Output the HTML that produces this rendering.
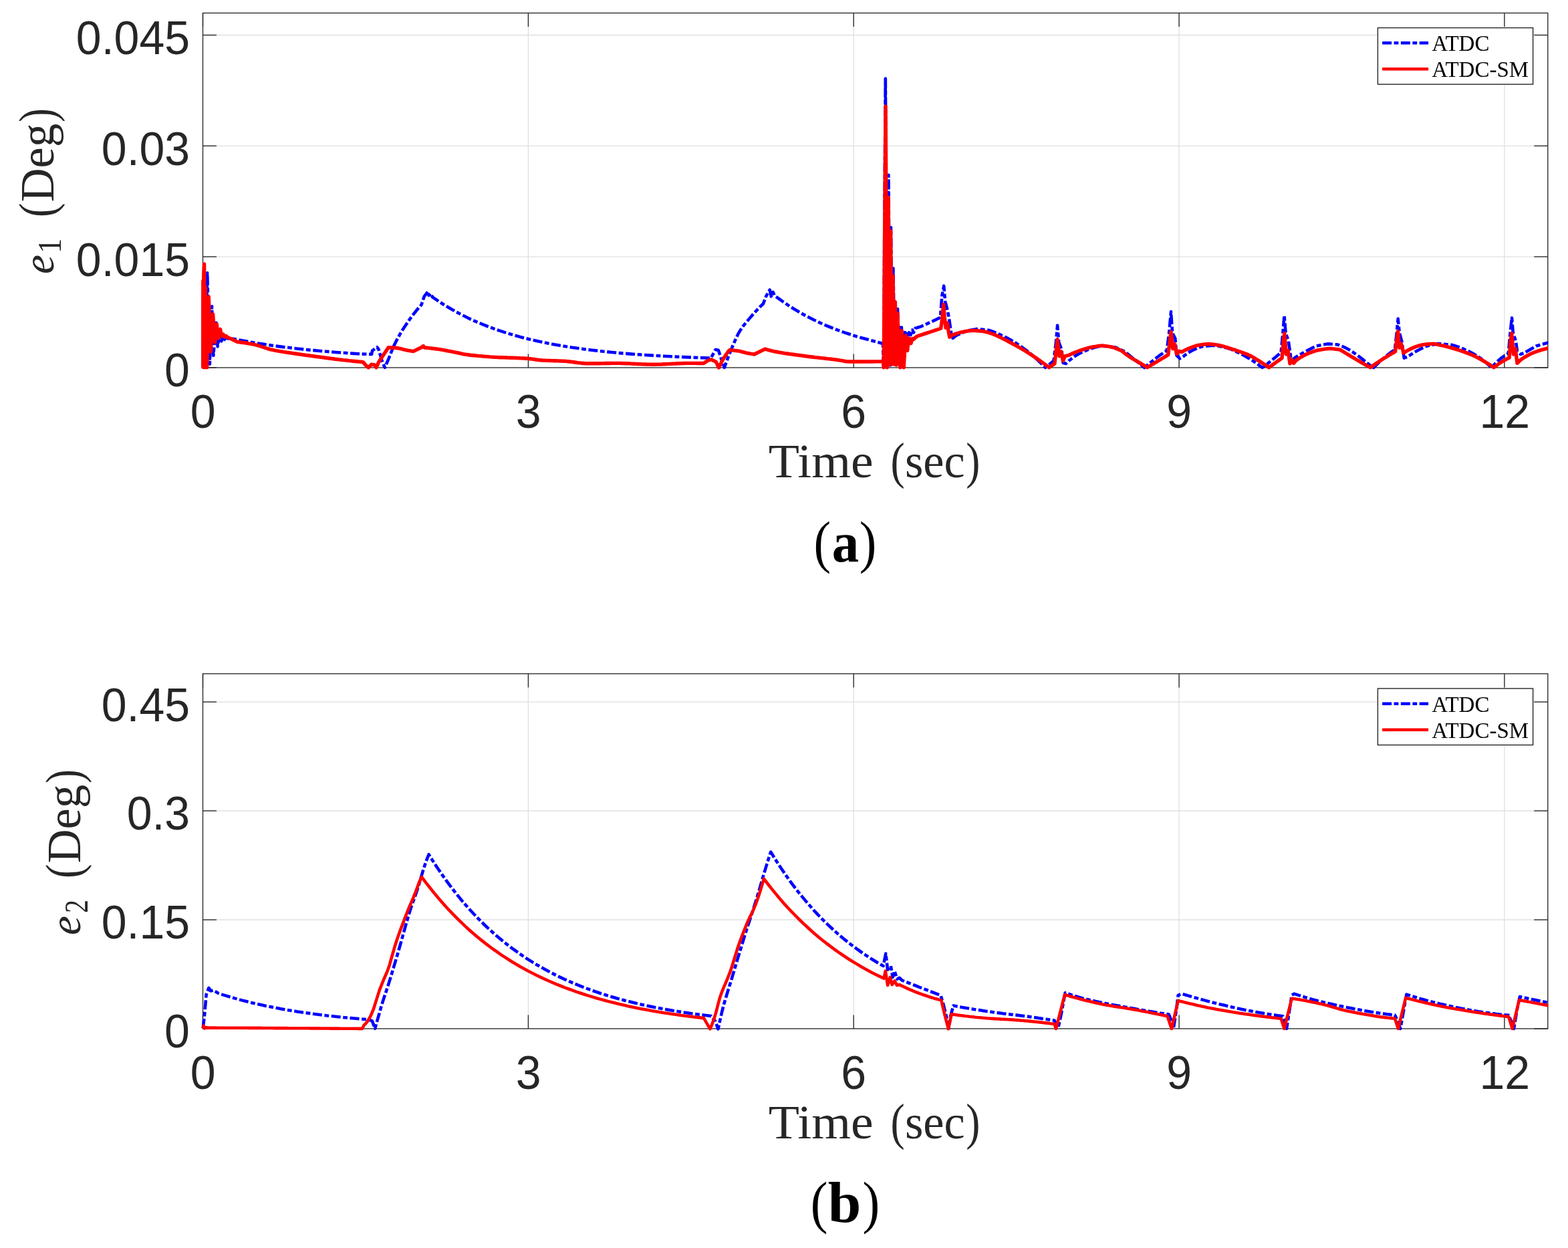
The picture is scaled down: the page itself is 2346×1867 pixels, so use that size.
<!DOCTYPE html>
<html lang="en"><head><meta charset="utf-8"><title>Tracking errors</title>
<style>
html,body{margin:0;padding:0;background:#fff;}
body{width:2346px;height:1867px;overflow:hidden;}
svg{display:block;}
text{white-space:pre;}
.tick{font-family:"Liberation Sans",Arial,Helvetica,sans-serif;fill:#262626;}
.ser{font-family:"Liberation Serif","DejaVu Serif",serif;fill:#262626;}
.it{font-style:italic;}
.bd{font-weight:bold;}
.ax{stroke:#262626;stroke-width:1.33;fill:none;}
.grid{stroke:#e0e0e0;stroke-width:1.33;fill:none;}
.red{stroke:#ff0000;stroke-width:4.6;fill:none;stroke-linejoin:round;stroke-linecap:butt;}
.blue{stroke:#0000ff;stroke-width:4.6;fill:none;stroke-linejoin:round;stroke-linecap:butt;stroke-dasharray:14 3.6 6.8 3.6;}
</style></head><body>
<svg width="2346" height="1867" viewBox="0 0 2346 1867">
<rect x="0" y="0" width="2346" height="1867" fill="#fff"/>

<g id="plot1">
<clipPath id="clip0"><rect x="300.5" y="19.5" width="2015.8" height="534.0"/></clipPath>
<line class="grid" x1="790.4" y1="19.5" x2="790.4" y2="550.0"/>
<line class="grid" x1="1277.2" y1="19.5" x2="1277.2" y2="550.0"/>
<line class="grid" x1="1764.1" y1="19.5" x2="1764.1" y2="550.0"/>
<line class="grid" x1="2250.9" y1="19.5" x2="2250.9" y2="550.0"/>
<line class="grid" x1="303.5" y1="384.1" x2="2315.8" y2="384.1"/>
<line class="grid" x1="303.5" y1="218.3" x2="2315.8" y2="218.3"/>
<line class="grid" x1="303.5" y1="52.5" x2="2315.8" y2="52.5"/>
<rect class="ax" x="303.5" y="19.5" width="2012.3" height="530.5"/>
<line class="ax" x1="303.5" y1="550.0" x2="303.5" y2="529.5"/>
<line class="ax" x1="303.5" y1="19.5" x2="303.5" y2="40.0"/>
<line class="ax" x1="790.4" y1="550.0" x2="790.4" y2="529.5"/>
<line class="ax" x1="790.4" y1="19.5" x2="790.4" y2="40.0"/>
<line class="ax" x1="1277.2" y1="550.0" x2="1277.2" y2="529.5"/>
<line class="ax" x1="1277.2" y1="19.5" x2="1277.2" y2="40.0"/>
<line class="ax" x1="1764.1" y1="550.0" x2="1764.1" y2="529.5"/>
<line class="ax" x1="1764.1" y1="19.5" x2="1764.1" y2="40.0"/>
<line class="ax" x1="2250.9" y1="550.0" x2="2250.9" y2="529.5"/>
<line class="ax" x1="2250.9" y1="19.5" x2="2250.9" y2="40.0"/>
<line class="ax" x1="303.5" y1="550.0" x2="324.0" y2="550.0"/>
<line class="ax" x1="2315.8" y1="550.0" x2="2295.3" y2="550.0"/>
<line class="ax" x1="303.5" y1="384.1" x2="324.0" y2="384.1"/>
<line class="ax" x1="2315.8" y1="384.1" x2="2295.3" y2="384.1"/>
<line class="ax" x1="303.5" y1="218.3" x2="324.0" y2="218.3"/>
<line class="ax" x1="2315.8" y1="218.3" x2="2295.3" y2="218.3"/>
<line class="ax" x1="303.5" y1="52.5" x2="324.0" y2="52.5"/>
<line class="ax" x1="2315.8" y1="52.5" x2="2295.3" y2="52.5"/>
<g clip-path="url(#clip0)">
<polyline class="blue" points="303.6,549.8 304.3,480.0 305.2,440.0 306.2,500.0 307.2,549.0 308.7,470.0 310.2,408.4 312.0,480.0 313.8,544.6 315.4,500.0 317.0,458.2 318.0,495.0 319.3,532.0 321.5,505.0 323.5,482.9 324.5,500.0 325.6,518.4 327.8,504.0 329.6,498.0 331.2,510.5 333.5,503.0 335.9,508.0 338.0,504.5 341.0,506.5 345.0,506.0 350.9,507.2 356.9,508.4 362.8,509.6 368.7,510.6 374.7,511.7 380.6,512.7 386.5,513.7 392.5,514.6 398.4,515.5 404.3,516.4 410.3,517.3 416.2,518.1 422.1,518.9 428.1,519.6 434.0,520.3 439.9,521.0 445.9,521.7 451.8,522.3 457.7,523.0 463.7,523.6 469.6,524.1 475.5,524.7 481.5,525.2 487.4,525.7 493.3,526.2 499.3,526.7 505.2,527.2 511.1,527.6 517.1,528.0 523.0,528.5 528.9,528.9 534.9,529.2 540.8,529.6 556.0,530.0 557.0,524.7 564.1,519.5 566.4,522.4 572.3,542.2 575.8,549.8 581.6,536.4 584.5,528.9 587.4,521.9 590.2,515.5 593.1,509.7 596.0,504.3 598.9,499.2 601.7,494.5 604.6,490.0 607.5,485.7 610.4,481.5 613.2,477.4 616.1,473.4 619.0,469.6 621.9,466.0 624.7,462.5 627.6,459.2 630.5,456.0 634.6,443.7 640.4,436.0 641.6,442.0 644.5,439.0 646.9,444.3 652.9,448.4 658.8,452.4 664.8,456.2 670.7,459.8 676.7,463.3 682.6,466.6 688.6,469.8 694.5,472.8 700.5,475.8 706.4,478.5 712.4,481.2 718.3,483.7 724.3,486.2 730.2,488.5 736.2,490.7 742.1,492.9 748.1,494.9 754.1,496.9 760.0,498.7 766.0,500.5 771.9,502.2 777.9,503.9 783.8,505.4 789.8,506.9 795.7,508.4 801.7,509.7 807.6,511.1 813.6,512.3 819.5,513.5 825.5,514.7 831.4,515.8 837.4,516.8 843.3,517.8 849.3,518.8 855.2,519.7 861.2,520.6 867.2,521.4 873.1,522.2 879.1,523.0 885.0,523.7 891.0,524.4 896.9,525.1 902.9,525.8 908.8,526.4 914.8,527.0 920.7,527.5 926.7,528.1 932.6,528.6 938.6,529.1 944.5,529.6 950.5,530.0 956.4,530.4 962.4,530.9 968.4,531.3 974.3,531.6 980.3,532.0 986.2,532.3 992.2,532.7 998.1,533.0 1004.1,533.3 1010.0,533.6 1016.0,533.9 1021.9,534.1 1027.9,534.4 1033.8,534.6 1039.8,534.9 1045.7,535.1 1051.7,535.3 1057.6,535.5 1063.6,535.7 1070.6,523.1 1074.8,523.8 1079.7,538.5 1083.8,550.0 1086.7,541.8 1089.6,534.0 1092.5,526.6 1095.4,519.6 1098.3,512.8 1101.2,506.2 1104.1,500.2 1107.0,495.1 1109.9,490.7 1112.8,486.7 1115.8,483.1 1118.7,479.6 1121.6,476.1 1124.5,472.7 1127.4,469.4 1130.3,466.2 1133.2,463.1 1136.1,460.1 1139.0,457.2 1141.9,454.5 1146.1,443.4 1151.7,433.6 1153.8,443.4 1156.6,437.0 1158.7,442.0 1164.6,446.4 1170.5,450.7 1176.4,454.7 1182.2,458.6 1188.1,462.3 1194.0,465.8 1199.9,469.2 1205.8,472.5 1211.7,475.5 1217.6,478.5 1223.5,481.3 1229.3,484.0 1235.2,486.6 1241.1,489.0 1247.0,491.4 1252.9,493.6 1258.8,495.8 1264.7,497.9 1270.6,499.8 1276.5,501.7 1282.3,503.5 1288.2,505.2 1294.1,506.8 1300.0,508.4 1321.0,514.0 1322.0,549.8 1323.4,330.0 1324.8,117.5 1326.1,330.0 1327.4,549.8 1328.4,400.0 1329.4,261.8 1330.4,400.0 1331.4,549.0 1332.2,440.0 1333.0,340.2 1333.9,440.0 1334.8,542.0 1335.6,470.0 1336.4,401.2 1337.6,480.0 1340.2,546.0 1341.7,500.0 1343.1,462.2 1344.5,510.0 1346.0,540.0 1347.3,510.0 1348.5,486.4 1350.0,505.0 1351.5,518.0 1353.0,505.0 1354.3,494.5 1356.0,500.0 1357.5,505.0 1359.0,500.0 1360.2,497.5 1362.5,501.0 1365.0,493.5 1367.0,497.5 1369.4,491.0 1372.3,490.2 1375.2,489.3 1378.1,488.3 1380.9,487.2 1383.8,485.9 1386.7,484.5 1389.6,483.1 1392.5,481.8 1395.4,480.5 1398.2,479.1 1401.1,477.8 1404.0,476.4 1406.9,475.0 1409.3,443.2 1412.2,427.7 1414.2,451.3 1417.5,463.6 1419.9,475.8 1423.2,498.6 1425.6,506.0 1430.5,502.0 1446.8,494.6 1463.2,492.1 1479.5,494.0 1482.4,495.0 1485.3,496.0 1488.2,497.1 1491.2,498.3 1494.1,499.6 1497.0,500.9 1499.9,502.3 1502.8,503.7 1505.7,505.1 1508.6,506.6 1511.6,508.2 1514.5,509.9 1517.4,511.6 1520.3,513.5 1523.2,515.4 1526.1,517.3 1529.0,519.4 1531.9,521.5 1534.9,523.6 1537.8,525.9 1540.7,528.2 1543.6,530.6 1546.5,533.1 1549.4,535.7 1552.3,538.4 1555.3,541.2 1558.2,544.1 1561.1,547.0 1564.0,550.0 1576.5,539.9 1580.0,511.9 1582.1,486.7 1584.2,511.9 1588.4,523.1 1590.5,542.7 1594.7,544.0 1598.9,540.0 1601.8,537.7 1604.7,535.4 1607.5,533.3 1610.4,531.5 1613.3,529.8 1616.2,528.3 1619.0,526.9 1621.9,525.5 1624.8,524.3 1627.7,523.1 1630.5,522.1 1633.4,521.1 1636.3,520.2 1639.2,519.4 1642.0,518.7 1644.9,518.1 1647.8,517.5 1668.8,519.6 1682.8,525.9 1712.2,550.0 1715.0,547.6 1717.8,545.3 1720.6,543.0 1723.4,540.7 1726.2,538.5 1729.0,536.4 1731.7,534.3 1734.5,532.2 1737.3,530.2 1740.1,528.3 1742.9,526.4 1745.7,524.5 1749.2,497.9 1752.0,466.4 1754.1,497.9 1758.3,506.3 1760.4,531.5 1765.3,536.4 1770.9,532.9 1773.7,530.7 1776.6,528.7 1779.4,526.8 1782.2,525.2 1785.1,523.8 1787.9,522.4 1790.7,521.1 1793.5,520.0 1796.4,519.0 1799.2,518.2 1816.0,516.8 1818.9,517.1 1821.8,517.5 1824.7,518.1 1827.6,518.7 1830.5,519.3 1833.4,520.1 1836.4,520.9 1839.3,521.7 1842.2,522.7 1845.1,523.9 1848.0,525.2 1850.9,526.6 1853.8,528.0 1856.7,529.5 1859.6,531.0 1862.5,532.5 1865.4,534.2 1868.3,535.9 1871.3,537.7 1874.2,539.6 1877.1,541.5 1880.0,543.5 1882.9,545.6 1885.8,547.8 1888.7,550.0 1891.5,547.9 1894.3,545.7 1897.1,543.6 1899.9,541.3 1902.7,539.1 1905.4,536.8 1908.2,534.5 1911.0,532.1 1913.8,529.7 1916.6,527.3 1919.4,497.9 1921.5,472.0 1923.6,497.9 1927.8,510.5 1930.0,525.9 1932.0,539.9 1937.6,535.0 1940.5,533.2 1943.5,531.5 1946.4,529.7 1949.3,528.1 1952.2,526.4 1955.2,524.8 1958.1,523.3 1961.0,521.8 1963.9,520.3 1966.9,518.9 1969.8,517.5 1986.6,514.4 2000.6,515.4 2003.5,516.3 2006.3,517.4 2009.2,518.5 2012.1,519.8 2014.9,521.2 2017.8,522.7 2020.7,524.4 2023.5,526.3 2026.4,528.3 2029.3,530.4 2032.2,532.5 2035.0,534.6 2037.9,536.9 2040.8,539.3 2043.6,541.6 2046.5,543.8 2049.4,546.0 2052.2,548.0 2055.1,550.0 2058.0,547.1 2060.9,544.3 2063.8,541.5 2066.7,538.9 2069.6,536.4 2072.4,533.9 2075.3,531.6 2078.2,529.3 2081.1,527.2 2084.0,525.1 2086.9,523.1 2089.7,497.9 2091.7,476.9 2093.8,497.9 2097.3,510.5 2099.4,525.9 2100.8,535.7 2106.4,533.6 2109.3,531.6 2112.1,529.7 2115.0,527.9 2117.9,526.1 2120.8,524.5 2123.6,523.0 2126.5,521.5 2129.4,520.1 2132.2,518.7 2135.1,517.5 2151.9,514.0 2172.9,516.1 2175.8,516.9 2178.8,517.9 2181.7,518.9 2184.6,520.0 2187.6,521.1 2190.5,522.4 2193.4,523.6 2196.4,525.0 2199.3,526.4 2202.2,528.0 2205.2,529.6 2208.1,531.4 2211.1,533.2 2214.0,535.1 2216.9,537.2 2219.9,539.5 2222.8,541.9 2225.7,544.5 2228.7,547.2 2231.6,550.0 2234.4,546.8 2237.2,543.8 2240.0,541.0 2242.8,538.5 2245.6,536.2 2248.4,534.1 2251.2,532.1 2254.0,530.3 2256.8,528.7 2259.6,497.9 2262.0,475.5 2263.8,497.9 2268.0,510.5 2270.0,525.9 2275.0,530.0 2280.6,528.0 2298.7,517.5 2318.0,512.2"/>
<polyline class="red" style="stroke-width:5.4" points="303.6,549.8 303.8,420.0 304.2,549.5 304.8,410.0 305.6,395.0 306.3,549.5 307.2,430.0 308.2,549.5 308.6,500.0 309.6,549.6 310.9,500.0 312.3,444.0 313.8,490.0 315.4,526.0 317.0,497.0 318.6,470.0 320.2,495.0 321.7,512.0 323.0,498.0 324.3,485.0 325.4,497.0 326.4,506.0 328.0,499.0 329.6,492.5 330.6,499.0 331.5,503.0 332.7,501.5 333.8,500.0 335.0,502.5 336.0,504.0 338.0,502.5 340.0,504.5 345.0,506.5 355.3,511.5 358.3,511.8 361.3,512.2 364.2,512.6 367.2,513.0 370.2,513.5 373.2,514.1 376.2,514.6 379.1,515.2 382.1,515.8 385.1,516.6 388.1,517.5 391.1,518.5 394.1,519.5 397.0,520.5 400.0,521.4 403.0,522.3 406.0,523.1 409.0,523.7 411.9,524.3 414.9,524.8 417.9,525.4 420.9,525.9 423.9,526.4 426.8,526.8 429.8,527.3 432.8,527.7 435.8,528.1 438.8,528.6 441.7,529.0 444.7,529.5 447.7,529.9 450.7,530.3 453.7,530.8 456.7,531.2 459.6,531.6 462.6,532.0 465.6,532.4 468.6,532.8 471.6,533.2 474.5,533.6 477.5,534.0 480.5,534.4 483.5,534.8 486.5,535.2 489.4,535.6 492.4,536.0 495.4,536.4 498.4,536.8 501.4,537.2 504.3,537.5 507.3,537.9 510.3,538.2 513.3,538.6 516.3,538.9 519.3,539.2 522.2,539.6 525.2,539.9 528.2,540.2 531.2,540.5 534.2,540.8 537.1,541.1 540.1,541.3 543.1,541.6 547.8,546.9 551.3,549.8 555.7,545.1 560.6,546.0 563.0,549.8 566.4,542.2 570.0,536.4 581.0,520.0 583.9,520.0 586.7,520.2 589.6,520.3 592.5,520.5 595.3,520.8 598.2,521.4 601.1,522.0 604.0,522.8 606.8,523.5 609.7,524.1 612.6,524.6 615.4,525.1 618.3,525.6 631.0,519.5 633.4,517.7 635.0,520.0 638.0,520.3 641.0,520.6 643.9,520.9 646.9,521.2 649.9,521.6 652.9,522.0 655.9,522.4 658.9,522.9 661.8,523.4 664.8,523.9 667.8,524.5 670.8,525.1 673.8,525.7 676.7,526.2 679.7,526.8 682.7,527.4 685.7,528.0 688.7,528.7 691.6,529.4 694.6,530.0 697.6,530.4 700.6,530.8 703.6,531.2 706.6,531.5 709.5,531.8 712.5,532.1 715.5,532.4 718.5,532.6 721.5,532.9 724.4,533.2 727.4,533.4 730.4,533.6 733.4,533.9 736.4,534.1 739.4,534.3 742.3,534.4 745.3,534.6 748.3,534.7 751.3,534.8 754.3,534.9 757.2,535.0 760.2,535.1 763.2,535.2 766.2,535.3 769.2,535.4 772.1,535.5 775.1,535.6 778.1,535.8 781.1,535.9 784.1,536.0 787.1,536.2 790.0,536.4 793.0,536.7 796.0,537.1 799.0,537.5 802.0,538.0 804.9,538.4 807.9,538.7 810.9,539.0 813.9,539.1 816.9,539.3 819.8,539.4 822.8,539.5 825.8,539.6 828.8,539.7 831.8,539.8 834.8,539.9 837.7,540.0 840.7,540.1 843.7,540.2 846.7,540.4 849.7,540.7 852.6,541.0 855.6,541.4 858.6,541.8 861.6,542.2 864.6,542.6 867.6,542.9 870.5,543.3 873.5,543.5 876.5,543.7 879.5,543.8 882.5,543.8 885.4,543.8 888.4,543.8 891.4,543.7 894.4,543.7 897.4,543.7 900.3,543.6 903.3,543.6 906.3,543.5 909.3,543.5 912.3,543.5 915.3,543.4 918.2,543.4 921.2,543.4 924.2,543.4 927.2,543.4 930.2,543.5 933.1,543.6 936.1,543.7 939.1,543.8 942.1,543.9 945.1,544.1 948.1,544.2 951.0,544.4 954.0,544.5 957.0,544.6 960.0,544.8 963.0,544.9 965.9,545.0 968.9,545.1 971.9,545.1 974.9,545.2 977.9,545.2 980.8,545.2 983.8,545.1 986.8,545.1 989.8,545.0 992.8,544.8 995.8,544.7 998.7,544.6 1001.7,544.4 1004.7,544.3 1007.7,544.1 1010.7,544.0 1013.6,543.8 1016.6,543.7 1019.6,543.6 1022.6,543.5 1025.6,543.4 1028.5,543.4 1031.5,543.4 1034.5,543.4 1037.5,543.4 1040.5,543.4 1043.5,543.5 1046.4,543.5 1049.4,543.5 1052.4,543.6 1059.4,539.2 1064.3,537.8 1071.3,541.3 1075.5,550.0 1078.2,544.4 1080.8,539.3 1083.5,534.8 1086.2,530.7 1088.8,527.0 1091.5,523.8 1094.4,523.9 1097.2,524.1 1100.1,524.5 1102.9,524.8 1105.8,525.2 1108.6,525.8 1111.5,526.6 1114.3,527.4 1117.2,528.1 1120.0,528.6 1122.9,529.2 1125.7,529.6 1128.6,530.0 1144.7,522.1 1147.7,523.0 1150.7,523.9 1153.7,524.7 1156.7,525.4 1159.7,526.0 1162.7,526.5 1165.7,527.1 1168.7,527.6 1171.7,528.1 1174.7,528.6 1177.7,529.0 1180.7,529.5 1183.7,529.9 1186.7,530.3 1189.7,530.7 1192.7,531.1 1195.7,531.5 1198.7,531.9 1201.7,532.3 1204.7,532.7 1207.7,533.1 1210.7,533.5 1213.7,533.8 1216.7,534.2 1219.7,534.6 1222.7,534.9 1225.7,535.3 1228.7,535.6 1231.7,535.9 1234.6,536.2 1237.6,536.6 1240.6,536.9 1243.6,537.2 1246.6,537.6 1249.6,538.0 1252.6,538.3 1255.6,538.8 1258.6,539.3 1261.6,539.9 1264.6,540.5 1267.6,540.9 1270.6,541.0 1273.6,541.0 1276.6,541.0 1279.6,541.0 1282.6,541.0 1285.6,541.0 1288.6,541.0 1291.6,541.0 1294.6,541.0 1297.6,541.0 1300.6,541.0 1303.6,541.0 1306.6,541.0 1309.6,540.9 1312.6,540.9 1315.6,540.9 1318.6,540.8 1321.6,540.8 1322.2,549.8 1323.6,350.0 1325.0,159.2 1326.2,350.0 1327.3,549.8 1328.2,420.0 1329.1,295.2 1330.0,420.0 1330.9,545.0 1331.8,450.0 1332.6,345.6 1333.5,450.0 1334.3,545.0 1335.2,480.0 1336.0,412.7 1336.9,480.0 1337.7,545.0 1338.5,500.0 1339.3,451.6 1340.3,500.0 1341.2,546.0 1342.1,505.0 1342.9,469.0 1344.2,510.0 1346.9,549.8 1347.9,520.0 1348.9,494.5 1350.3,525.0 1352.2,549.8 1353.6,525.0 1354.9,501.8 1356.3,515.0 1357.6,524.5 1358.8,514.0 1359.9,505.9 1361.5,511.0 1363.0,513.7 1364.0,509.0 1365.0,506.5 1366.2,508.0 1367.5,507.0 1369.5,505.0 1372.2,503.0 1375.2,502.0 1378.1,501.1 1381.1,500.1 1384.0,499.1 1387.0,498.1 1390.0,497.2 1392.9,496.2 1395.9,495.2 1398.8,494.2 1401.8,493.3 1404.7,492.3 1407.7,491.3 1409.5,478.0 1411.7,455.4 1413.3,475.0 1415.0,490.5 1417.5,483.0 1419.0,495.0 1420.7,504.3 1425.6,501.0 1428.6,499.9 1431.6,498.9 1434.6,498.0 1437.6,497.2 1440.6,496.6 1443.6,496.0 1446.6,495.4 1449.6,494.9 1452.6,494.6 1455.6,494.5 1458.6,494.6 1461.6,494.7 1464.6,495.0 1467.6,495.3 1470.6,495.6 1473.6,496.1 1476.6,496.8 1479.6,497.7 1482.6,498.8 1485.6,499.8 1488.6,501.0 1491.6,502.3 1494.6,503.7 1497.5,505.1 1500.5,506.6 1503.5,508.2 1506.5,509.7 1509.5,511.3 1512.5,512.9 1515.5,514.5 1518.5,516.1 1521.5,517.8 1524.5,519.5 1527.5,521.2 1530.5,523.0 1533.5,524.8 1536.5,526.6 1539.5,528.5 1542.5,530.4 1545.5,532.4 1548.5,534.4 1551.5,536.5 1554.5,538.6 1557.5,540.7 1560.5,542.9 1563.5,545.1 1566.5,547.4 1569.5,549.7 1577.9,544.0 1580.0,525.9 1582.1,507.7 1584.9,532.9 1587.7,525.9 1590.5,539.9 1593.3,532.9 1598.9,531.5 1601.8,530.1 1604.7,528.8 1607.5,527.6 1610.4,526.4 1613.3,525.3 1616.2,524.3 1619.0,523.3 1621.9,522.4 1624.8,521.5 1627.7,520.6 1630.5,519.9 1633.4,519.3 1636.3,518.7 1639.2,518.3 1642.0,517.8 1644.9,517.5 1647.8,517.2 1650.6,517.3 1653.4,517.6 1656.2,517.9 1659.0,518.4 1661.8,518.9 1664.6,519.5 1667.4,520.3 1670.2,521.4 1673.0,522.5 1675.8,523.8 1678.6,525.2 1681.5,527.5 1684.4,529.8 1687.3,531.9 1690.2,533.9 1693.1,535.7 1696.0,537.5 1699.0,539.2 1701.9,540.8 1704.8,542.6 1707.7,544.4 1710.6,546.1 1713.5,547.9 1716.4,549.7 1719.3,548.0 1722.1,546.3 1725.0,544.6 1727.8,542.9 1730.7,541.2 1733.5,539.5 1736.4,537.8 1739.2,536.0 1742.1,534.3 1744.9,532.6 1747.8,530.8 1750.0,511.9 1752.0,496.5 1754.8,521.7 1757.6,514.7 1760.4,529.4 1763.9,525.2 1768.1,526.6 1771.1,524.9 1774.0,523.4 1777.0,522.0 1780.0,520.7 1782.9,519.6 1785.9,518.5 1788.8,517.5 1791.8,516.7 1794.8,516.1 1797.7,515.7 1800.7,515.3 1803.7,515.0 1806.6,514.8 1809.6,514.7 1812.6,514.9 1815.5,515.2 1818.5,515.6 1821.4,516.1 1824.4,516.7 1827.4,517.3 1830.3,518.1 1833.3,519.0 1836.3,519.9 1839.2,520.9 1842.2,521.8 1845.2,522.8 1848.1,523.7 1851.1,524.7 1854.0,525.7 1857.0,526.7 1860.0,527.8 1862.9,528.9 1865.9,530.1 1868.9,531.4 1871.8,532.8 1874.8,534.4 1877.8,536.2 1880.7,538.0 1883.7,539.9 1886.6,541.8 1889.6,543.7 1892.6,545.6 1895.5,547.6 1898.5,549.7 1901.3,547.7 1904.1,545.7 1906.9,543.7 1909.6,541.7 1912.4,539.7 1915.2,537.7 1918.0,535.7 1920.1,511.9 1921.8,498.6 1924.3,530.0 1927.1,524.5 1930.0,544.0 1932.7,537.8 1935.5,543.4 1939.0,539.2 1941.9,537.2 1944.8,535.3 1947.6,533.6 1950.5,531.9 1953.4,530.5 1956.3,529.2 1959.1,528.0 1962.0,526.9 1964.9,525.9 1967.8,525.0 1970.7,524.2 1973.5,523.6 1976.4,523.1 1979.3,522.6 1982.2,522.2 1985.0,521.8 1987.9,521.5 1990.8,521.4 2004.8,523.1 2007.6,524.8 2010.5,526.5 2013.3,528.3 2016.1,530.0 2019.0,531.7 2021.8,533.4 2024.7,535.1 2027.5,536.8 2030.3,538.5 2033.2,540.2 2036.0,541.8 2038.8,543.4 2041.7,545.0 2044.5,546.6 2047.4,548.2 2050.2,549.7 2053.1,547.7 2056.0,545.7 2058.8,543.8 2061.7,541.9 2064.6,540.0 2067.5,538.1 2070.3,536.3 2073.2,534.5 2076.1,532.7 2079.0,531.0 2081.8,529.3 2084.7,527.6 2087.6,525.9 2089.7,509.1 2091.5,495.8 2093.8,520.3 2096.6,514.7 2099.9,528.0 2105.7,524.5 2108.6,522.9 2111.5,521.5 2114.4,520.2 2117.3,519.0 2120.2,518.0 2123.1,517.1 2126.0,516.3 2128.9,515.7 2131.8,515.3 2134.7,515.0 2137.6,514.8 2140.5,514.6 2143.4,514.4 2146.3,514.4 2149.3,515.0 2152.2,515.6 2155.2,516.3 2158.1,517.0 2161.1,517.7 2164.1,518.4 2167.0,519.2 2170.0,520.0 2172.9,520.8 2175.9,521.7 2178.9,522.6 2181.8,523.5 2184.8,524.5 2187.7,525.5 2190.7,526.5 2193.7,527.6 2196.6,528.7 2199.6,529.9 2202.5,531.1 2205.5,532.4 2208.5,533.9 2211.4,535.4 2214.4,537.0 2217.3,538.7 2220.3,540.4 2223.3,542.2 2226.2,544.0 2229.2,545.8 2232.1,547.7 2235.1,549.7 2238.0,547.5 2240.9,545.4 2243.8,543.4 2246.6,541.5 2249.5,539.7 2252.4,538.1 2255.3,536.5 2258.2,535.0 2259.9,511.9 2261.7,498.6 2264.5,530.0 2267.3,521.7 2270.0,543.4 2275.0,538.5 2277.9,536.5 2280.7,534.6 2283.6,532.9 2286.5,531.3 2289.3,529.8 2292.2,528.5 2295.1,527.3 2297.9,526.2 2300.8,525.2 2303.7,524.3 2306.5,523.4 2309.4,522.6 2312.3,521.8 2315.1,521.1 2318.0,520.5"/>
</g>
<text class="tick" font-size="71.00" transform="translate(284.69,640.00) scale(0.9580,1)">0</text>
<text class="tick" font-size="71.00" transform="translate(771.79,640.00) scale(0.9580,1)">3</text>
<text class="tick" font-size="71.00" transform="translate(1258.15,640.00) scale(0.9580,1)">6</text>
<text class="tick" font-size="71.00" transform="translate(1745.30,640.00) scale(0.9580,1)">9</text>
<text class="tick" font-size="71.00" transform="translate(2213.49,640.00) scale(0.9580,1)">12</text>
<text class="tick" font-size="71.00" transform="translate(246.03,578.35) scale(0.9580,1)">0</text>
<text class="tick" font-size="71.00" transform="translate(113.85,412.53) scale(0.9580,1)">0.015</text>
<text class="tick" font-size="71.00" transform="translate(151.81,246.72) scale(0.9580,1)">0.03</text>
<text class="tick" font-size="71.00" transform="translate(113.85,80.90) scale(0.9580,1)">0.045</text>
<text><tspan class="ser" font-size="71.50" x="1149.66" y="714.30" textLength="156.92" lengthAdjust="spacingAndGlyphs">Time</tspan> <tspan class="ser" font-size="76.40" x="1332.41" y="715.10" textLength="21.13" lengthAdjust="spacingAndGlyphs">(</tspan><tspan class="ser" font-size="71.50" x="1353.92" y="714.30" textLength="89.74" lengthAdjust="spacingAndGlyphs">sec</tspan><tspan class="ser" font-size="76.40" x="1445.15" y="715.10" textLength="21.13" lengthAdjust="spacingAndGlyphs">)</tspan></text>
<text transform="translate(80.3,408.1) rotate(-90)"><tspan class="ser it" font-size="66.50" x="-2.00" y="0.00" textLength="28.86" lengthAdjust="spacingAndGlyphs">e</tspan><tspan class="ser" font-size="49.70" x="29.16" y="10.70" textLength="22.44" lengthAdjust="spacingAndGlyphs">1</tspan> <tspan class="ser" font-size="76.40" x="82.99" y="1.00" textLength="21.26" lengthAdjust="spacingAndGlyphs">(</tspan><tspan class="ser" font-size="71.50" x="105.77" y="0.00" textLength="117.47" lengthAdjust="spacingAndGlyphs">Deg</tspan><tspan class="ser" font-size="76.40" x="225.39" y="1.00" textLength="20.75" lengthAdjust="spacingAndGlyphs">)</tspan></text>
<rect x="2061.4" y="41.6" width="232.2" height="84.5" fill="#fff" stroke="#262626" stroke-width="1.4"/>
<line x1="2068.1" y1="64.2" x2="2137.1" y2="64.2" stroke="#0000ff" stroke-width="4.6" stroke-dasharray="14 3.5 6.8 3.5"/>
<line x1="2068.1" y1="103.3" x2="2137.1" y2="103.3" stroke="#ff0000" stroke-width="4.6"/>
<text class="ser" font-size="33.00" transform="translate(2142.28,76.20) scale(1.0000,1)" style="fill:#000">ATDC</text>
<text class="ser" font-size="33.00" transform="translate(2142.28,115.10) scale(1.0000,1)" style="fill:#000">ATDC-SM</text>
<text><tspan class="ser" font-size="85.80" x="1217.53" y="839.60" textLength="25.57" lengthAdjust="spacingAndGlyphs" style="fill:#000">(</tspan><tspan class="ser bd" font-size="84.20" x="1244.70" y="840.30" textLength="40.42" lengthAdjust="spacingAndGlyphs" style="fill:#000">a</tspan><tspan class="ser" font-size="85.80" x="1285.70" y="839.60" textLength="25.57" lengthAdjust="spacingAndGlyphs" style="fill:#000">)</tspan></text>
</g>
<g id="plot2">
<clipPath id="clip1"><rect x="300.5" y="1007.9" width="2015.8" height="534.5"/></clipPath>
<line class="grid" x1="790.4" y1="1007.9" x2="790.4" y2="1538.9"/>
<line class="grid" x1="1277.2" y1="1007.9" x2="1277.2" y2="1538.9"/>
<line class="grid" x1="1764.1" y1="1007.9" x2="1764.1" y2="1538.9"/>
<line class="grid" x1="2250.9" y1="1007.9" x2="2250.9" y2="1538.9"/>
<line class="grid" x1="303.5" y1="1376.0" x2="2315.8" y2="1376.0"/>
<line class="grid" x1="303.5" y1="1213.0" x2="2315.8" y2="1213.0"/>
<line class="grid" x1="303.5" y1="1050.1" x2="2315.8" y2="1050.1"/>
<rect class="ax" x="303.5" y="1007.9" width="2012.3" height="531.0"/>
<line class="ax" x1="303.5" y1="1538.9" x2="303.5" y2="1518.4"/>
<line class="ax" x1="303.5" y1="1007.9" x2="303.5" y2="1028.4"/>
<line class="ax" x1="790.4" y1="1538.9" x2="790.4" y2="1518.4"/>
<line class="ax" x1="790.4" y1="1007.9" x2="790.4" y2="1028.4"/>
<line class="ax" x1="1277.2" y1="1538.9" x2="1277.2" y2="1518.4"/>
<line class="ax" x1="1277.2" y1="1007.9" x2="1277.2" y2="1028.4"/>
<line class="ax" x1="1764.1" y1="1538.9" x2="1764.1" y2="1518.4"/>
<line class="ax" x1="1764.1" y1="1007.9" x2="1764.1" y2="1028.4"/>
<line class="ax" x1="2250.9" y1="1538.9" x2="2250.9" y2="1518.4"/>
<line class="ax" x1="2250.9" y1="1007.9" x2="2250.9" y2="1028.4"/>
<line class="ax" x1="303.5" y1="1538.9" x2="324.0" y2="1538.9"/>
<line class="ax" x1="2315.8" y1="1538.9" x2="2295.3" y2="1538.9"/>
<line class="ax" x1="303.5" y1="1376.0" x2="324.0" y2="1376.0"/>
<line class="ax" x1="2315.8" y1="1376.0" x2="2295.3" y2="1376.0"/>
<line class="ax" x1="303.5" y1="1213.0" x2="324.0" y2="1213.0"/>
<line class="ax" x1="2315.8" y1="1213.0" x2="2295.3" y2="1213.0"/>
<line class="ax" x1="303.5" y1="1050.1" x2="324.0" y2="1050.1"/>
<line class="ax" x1="2315.8" y1="1050.1" x2="2295.3" y2="1050.1"/>
<g clip-path="url(#clip1)">
<polyline class="blue" points="303.7,1538.0 305.9,1519.7 308.6,1488.0 312.4,1477.8 315.2,1482.4 318.9,1481.5 327.3,1486.2 333.2,1488.1 339.1,1489.9 345.0,1491.7 350.9,1493.4 356.7,1495.0 362.6,1496.6 368.5,1498.1 374.4,1499.5 380.3,1500.9 386.2,1502.3 392.1,1503.6 398.0,1504.9 403.9,1506.1 409.8,1507.2 415.6,1508.3 421.5,1509.4 427.4,1510.5 433.3,1511.5 439.2,1512.4 445.1,1513.4 451.0,1514.3 456.9,1515.1 462.8,1515.9 468.6,1516.7 474.5,1517.5 480.4,1518.3 486.3,1519.0 492.2,1519.7 498.1,1520.3 504.0,1521.0 509.9,1521.6 515.8,1522.2 521.7,1522.7 527.5,1523.3 533.4,1523.8 539.3,1524.3 545.2,1524.8 551.1,1525.3 556.7,1527.2 561.1,1538.6 564.1,1527.9 567.1,1517.5 570.0,1507.2 573.0,1497.3 576.0,1488.1 579.0,1479.4 581.9,1470.4 584.9,1460.7 587.9,1450.6 590.9,1440.6 593.9,1430.6 596.8,1420.5 599.8,1410.1 602.8,1399.3 605.8,1388.6 608.7,1378.3 611.7,1368.1 614.7,1358.5 617.7,1349.8 620.7,1341.7 623.6,1333.2 626.6,1323.7 629.6,1313.6 632.6,1303.6 635.5,1294.5 638.5,1286.1 641.5,1278.2 647.5,1287.7 653.4,1296.8 659.4,1305.5 665.3,1314.0 671.3,1322.2 677.2,1330.0 683.2,1337.6 689.1,1344.9 695.1,1351.9 701.0,1358.7 707.0,1365.2 712.9,1371.5 718.9,1377.6 724.8,1383.5 730.8,1389.1 736.8,1394.5 742.7,1399.8 748.7,1404.8 754.6,1409.7 760.6,1414.4 766.5,1418.9 772.5,1423.2 778.4,1427.4 784.4,1431.5 790.3,1435.4 796.3,1439.1 802.2,1442.7 808.2,1446.2 814.2,1449.6 820.1,1452.8 826.1,1455.9 832.0,1459.0 838.0,1461.9 843.9,1464.6 849.9,1467.3 855.8,1469.9 861.8,1472.4 867.7,1474.8 873.7,1477.2 879.6,1479.4 885.6,1481.6 891.5,1483.7 897.5,1485.7 903.5,1487.6 909.4,1489.5 915.4,1491.2 921.3,1493.0 927.3,1494.6 933.2,1496.2 939.2,1497.8 945.1,1499.3 951.1,1500.7 957.0,1502.1 963.0,1503.4 968.9,1504.7 974.9,1506.0 980.9,1507.2 986.8,1508.3 992.8,1509.4 998.7,1510.5 1004.7,1511.5 1010.6,1512.5 1016.6,1513.5 1022.5,1514.4 1028.5,1515.3 1034.4,1516.2 1040.4,1517.0 1046.3,1517.8 1052.3,1518.5 1058.2,1519.3 1064.2,1520.0 1069.8,1527.2 1074.5,1539.3 1077.4,1525.7 1080.3,1513.1 1083.2,1502.0 1086.2,1491.8 1089.1,1482.3 1092.0,1473.0 1094.9,1463.6 1097.8,1453.9 1100.7,1444.2 1103.6,1434.4 1106.6,1424.8 1109.5,1415.1 1112.4,1405.6 1115.3,1396.2 1118.2,1387.1 1121.1,1378.2 1124.1,1369.3 1127.0,1360.4 1129.9,1351.3 1132.8,1342.0 1135.7,1332.3 1138.6,1322.2 1141.5,1312.1 1144.5,1302.1 1147.4,1292.6 1150.3,1283.4 1153.2,1274.5 1159.0,1283.9 1164.8,1293.0 1170.6,1301.7 1176.4,1310.1 1182.2,1318.3 1188.0,1326.1 1193.8,1333.6 1199.7,1340.9 1205.5,1347.9 1211.3,1354.6 1217.1,1361.2 1222.9,1367.4 1228.7,1373.5 1234.5,1379.3 1240.3,1384.9 1246.1,1390.3 1251.9,1395.5 1257.7,1400.5 1263.5,1405.4 1269.3,1410.0 1275.1,1414.5 1281.0,1418.9 1286.8,1423.0 1292.6,1427.1 1298.4,1430.9 1304.2,1434.7 1310.0,1438.3 1315.8,1441.8 1321.6,1445.1 1325.3,1426.5 1328.1,1450.7 1332.8,1445.1 1335.6,1461.9 1338.4,1452.6 1342.1,1464.7 1345.8,1462.8 1349.6,1466.6 1352.5,1467.7 1355.4,1468.9 1358.3,1470.0 1361.2,1471.1 1364.0,1472.3 1366.9,1473.4 1369.8,1474.5 1372.7,1475.6 1375.6,1476.8 1378.5,1477.9 1381.4,1479.0 1384.3,1480.1 1387.2,1481.2 1390.1,1482.4 1393.0,1483.5 1395.8,1484.6 1398.7,1485.7 1401.6,1486.8 1404.5,1487.9 1407.4,1489.0 1411.1,1501.1 1416.7,1523.5 1419.5,1538.4 1422.3,1519.7 1426.3,1504.5 1429.3,1505.0 1432.2,1505.6 1435.2,1506.1 1438.2,1506.7 1441.1,1507.2 1444.1,1507.7 1447.1,1508.2 1450.0,1508.7 1453.0,1509.2 1456.0,1509.7 1458.9,1510.2 1461.9,1510.7 1464.9,1511.1 1467.8,1511.6 1470.8,1512.1 1473.8,1512.5 1476.7,1513.0 1479.7,1513.4 1482.7,1513.8 1485.6,1514.2 1488.6,1514.7 1491.6,1515.0 1494.5,1515.4 1497.5,1515.8 1500.5,1516.2 1503.4,1516.5 1506.4,1516.9 1509.4,1517.2 1512.3,1517.6 1515.3,1517.9 1518.3,1518.3 1521.2,1518.6 1524.2,1519.0 1527.2,1519.4 1530.1,1519.7 1533.1,1520.1 1536.1,1520.5 1539.0,1520.9 1542.0,1521.3 1545.0,1521.7 1547.9,1522.1 1550.9,1522.5 1553.9,1523.0 1556.8,1523.4 1559.8,1523.9 1562.8,1524.3 1565.7,1524.8 1568.7,1525.2 1571.7,1525.7 1574.6,1526.1 1577.6,1526.6 1583.2,1537.8 1587.4,1518.9 1593.7,1485.3 1596.7,1486.3 1599.7,1487.3 1602.6,1488.2 1605.6,1489.2 1608.6,1490.1 1611.6,1491.0 1614.6,1491.9 1617.5,1492.8 1620.5,1493.6 1623.5,1494.3 1626.5,1495.1 1629.5,1495.8 1632.5,1496.5 1635.4,1497.1 1638.4,1497.8 1641.4,1498.4 1644.4,1499.1 1647.4,1499.7 1650.3,1500.3 1653.3,1500.9 1656.3,1501.5 1659.3,1502.1 1662.3,1502.6 1665.2,1503.2 1668.2,1503.7 1671.2,1504.3 1674.2,1504.8 1677.2,1505.4 1680.1,1505.9 1683.1,1506.5 1686.1,1507.0 1689.1,1507.5 1692.1,1508.1 1695.0,1508.6 1698.0,1509.1 1701.0,1509.7 1704.0,1510.2 1707.0,1510.7 1710.0,1511.2 1712.9,1511.7 1715.9,1512.2 1718.9,1512.8 1721.9,1513.2 1724.9,1513.7 1727.8,1514.2 1730.8,1514.7 1733.8,1515.2 1736.8,1515.7 1739.8,1516.1 1742.7,1516.6 1745.7,1517.0 1748.7,1517.5 1752.2,1525.9 1755.7,1538.9 1759.9,1511.9 1762.7,1488.8 1768.3,1486.7 1771.3,1487.6 1774.2,1488.5 1777.2,1489.4 1780.2,1490.2 1783.1,1491.1 1786.1,1492.0 1789.0,1492.8 1792.0,1493.6 1795.0,1494.5 1797.9,1495.3 1800.9,1496.1 1803.9,1496.9 1806.8,1497.7 1809.8,1498.4 1812.7,1499.2 1815.7,1500.0 1818.7,1500.7 1821.6,1501.4 1824.6,1502.2 1827.6,1502.9 1830.5,1503.6 1833.5,1504.3 1836.4,1505.0 1839.4,1505.7 1842.4,1506.4 1845.3,1507.1 1848.3,1507.7 1851.3,1508.4 1854.2,1509.0 1857.2,1509.7 1860.1,1510.3 1863.1,1510.9 1866.1,1511.5 1869.0,1512.1 1872.0,1512.6 1875.0,1513.2 1877.9,1513.7 1880.9,1514.3 1883.8,1514.8 1886.8,1515.3 1889.8,1515.8 1892.7,1516.3 1895.7,1516.8 1898.7,1517.3 1901.6,1517.7 1904.6,1518.2 1907.5,1518.6 1910.5,1519.1 1913.5,1519.5 1916.4,1519.9 1919.4,1520.3 1922.2,1528.7 1925.0,1538.9 1929.2,1511.9 1932.7,1488.8 1936.2,1486.7 1939.2,1487.6 1942.1,1488.6 1945.1,1489.5 1948.0,1490.4 1951.0,1491.3 1953.9,1492.3 1956.9,1493.1 1959.8,1494.0 1962.8,1494.9 1965.7,1495.7 1968.7,1496.5 1971.7,1497.3 1974.6,1498.0 1977.6,1498.7 1980.5,1499.4 1983.5,1500.1 1986.4,1500.8 1989.4,1501.4 1992.3,1502.1 1995.3,1502.7 1998.3,1503.4 2001.2,1504.0 2004.2,1504.7 2007.1,1505.3 2010.1,1505.9 2013.0,1506.5 2016.0,1507.2 2018.9,1507.8 2021.9,1508.3 2024.8,1508.9 2027.8,1509.5 2030.8,1510.1 2033.7,1510.6 2036.7,1511.2 2039.6,1511.7 2042.6,1512.2 2045.5,1512.7 2048.5,1513.2 2051.4,1513.7 2054.4,1514.2 2057.4,1514.7 2060.3,1515.1 2063.3,1515.6 2066.2,1516.0 2069.2,1516.4 2072.1,1516.8 2075.1,1517.2 2078.0,1517.5 2081.0,1517.9 2083.9,1518.2 2086.9,1518.5 2091.0,1527.0 2095.2,1538.9 2100.0,1512.0 2104.4,1487.7 2107.4,1488.6 2110.4,1489.6 2113.4,1490.5 2116.4,1491.4 2119.4,1492.3 2122.4,1493.2 2125.4,1494.1 2128.4,1494.9 2131.4,1495.8 2134.4,1496.6 2137.4,1497.4 2140.4,1498.2 2143.3,1499.0 2146.3,1499.7 2149.3,1500.5 2152.3,1501.2 2155.3,1501.9 2158.3,1502.6 2161.3,1503.3 2164.3,1504.0 2167.3,1504.6 2170.3,1505.3 2173.3,1505.9 2176.3,1506.6 2179.3,1507.2 2182.3,1507.8 2185.3,1508.4 2188.3,1509.0 2191.3,1509.6 2194.3,1510.2 2197.3,1510.7 2200.3,1511.3 2203.3,1511.8 2206.3,1512.3 2209.3,1512.8 2212.3,1513.3 2215.3,1513.7 2218.3,1514.2 2221.2,1514.6 2224.2,1515.0 2227.2,1515.4 2230.2,1515.8 2233.2,1516.2 2236.2,1516.6 2239.2,1517.0 2242.2,1517.3 2245.2,1517.7 2248.2,1518.0 2251.2,1518.3 2254.2,1518.6 2257.2,1518.9 2261.0,1528.0 2265.0,1538.9 2269.5,1512.0 2273.9,1491.0 2318.0,1500.4"/>
<polyline class="red" points="303.6,1538.5 304.5,1534.5 306.0,1538.5 308.0,1537.0 310.5,1537.6 313.5,1537.6 316.4,1537.6 319.4,1537.6 322.4,1537.6 325.3,1537.7 328.3,1537.7 331.3,1537.7 334.3,1537.7 337.2,1537.7 340.2,1537.7 343.2,1537.7 346.1,1537.7 349.1,1537.8 352.1,1537.8 355.0,1537.8 358.0,1537.8 361.0,1537.8 363.9,1537.8 366.9,1537.8 369.9,1537.8 372.9,1537.9 375.8,1537.9 378.8,1537.9 381.8,1537.9 384.7,1537.9 387.7,1537.9 390.7,1537.9 393.6,1538.0 396.6,1538.0 399.6,1538.0 402.5,1538.0 405.5,1538.0 408.5,1538.0 411.5,1538.1 414.4,1538.1 417.4,1538.1 420.4,1538.1 423.3,1538.1 426.3,1538.1 429.3,1538.1 432.2,1538.2 435.2,1538.2 438.2,1538.2 441.1,1538.2 444.1,1538.2 447.1,1538.3 450.1,1538.3 453.0,1538.3 456.0,1538.3 459.0,1538.3 461.9,1538.3 464.9,1538.4 467.9,1538.4 470.8,1538.4 473.8,1538.4 476.8,1538.4 479.7,1538.5 482.7,1538.5 485.7,1538.5 488.7,1538.5 491.6,1538.5 494.6,1538.6 497.6,1538.6 500.5,1538.6 503.5,1538.6 506.5,1538.6 509.4,1538.7 512.4,1538.7 515.4,1538.7 518.3,1538.7 521.3,1538.7 524.3,1538.8 527.3,1538.8 530.2,1538.8 533.2,1538.8 536.2,1538.9 539.1,1538.9 542.1,1538.9 544.4,1533.9 547.3,1531.1 550.2,1527.3 553.0,1522.7 555.9,1516.9 558.8,1509.7 562.6,1497.6 567.9,1480.9 570.9,1473.4 573.8,1466.0 576.8,1459.2 579.7,1452.3 582.7,1444.0 585.6,1433.4 588.6,1423.1 591.5,1413.2 594.5,1404.0 597.5,1395.6 600.4,1387.6 603.4,1379.7 606.3,1372.0 609.3,1364.5 612.2,1357.2 615.2,1350.3 618.1,1343.6 621.1,1336.2 624.0,1328.5 627.0,1320.3 630.9,1311.8 636.8,1319.8 642.8,1327.5 648.7,1334.9 654.7,1342.1 660.6,1349.0 666.6,1355.7 672.5,1362.2 678.5,1368.4 684.4,1374.4 690.4,1380.2 696.3,1385.8 702.2,1391.2 708.2,1396.5 714.1,1401.5 720.1,1406.4 726.0,1411.1 732.0,1415.6 737.9,1420.0 743.9,1424.2 749.8,1428.3 755.7,1432.2 761.7,1436.0 767.6,1439.7 773.6,1443.2 779.5,1446.7 785.5,1450.0 791.4,1453.2 797.4,1456.2 803.3,1459.2 809.3,1462.1 815.2,1464.8 821.1,1467.5 827.1,1470.1 833.0,1472.6 839.0,1475.0 844.9,1477.3 850.9,1479.5 856.8,1481.7 862.8,1483.8 868.7,1485.8 874.6,1487.7 880.6,1489.6 886.5,1491.4 892.5,1493.2 898.4,1494.9 904.4,1496.5 910.3,1498.1 916.3,1499.6 922.2,1501.1 928.2,1502.5 934.1,1503.8 940.0,1505.2 946.0,1506.4 951.9,1507.7 957.9,1508.9 963.8,1510.0 969.8,1511.1 975.7,1512.2 981.7,1513.2 987.6,1514.2 993.5,1515.2 999.5,1516.1 1005.4,1517.0 1011.4,1517.8 1017.3,1518.7 1023.3,1519.5 1029.2,1520.3 1035.2,1521.0 1041.1,1521.7 1047.1,1522.4 1053.0,1523.1 1062.4,1539.3 1065.4,1532.3 1068.4,1524.0 1071.3,1514.4 1074.3,1502.5 1077.3,1491.7 1080.3,1483.3 1083.3,1476.0 1086.3,1469.1 1089.2,1462.1 1092.2,1454.4 1095.2,1445.5 1098.2,1435.8 1101.2,1426.1 1104.1,1416.8 1107.1,1408.3 1110.1,1400.3 1113.1,1392.6 1116.1,1385.2 1119.0,1378.2 1122.0,1371.8 1125.0,1365.7 1128.0,1359.2 1131.0,1351.8 1134.0,1343.5 1136.9,1334.5 1139.9,1324.9 1142.9,1314.6 1148.9,1322.5 1154.9,1330.1 1160.9,1337.4 1166.8,1344.5 1172.8,1351.4 1178.8,1358.0 1184.8,1364.4 1190.8,1370.5 1196.8,1376.5 1202.8,1382.3 1208.8,1387.8 1214.7,1393.2 1220.7,1398.4 1226.7,1403.4 1232.7,1408.2 1238.7,1412.9 1244.7,1417.4 1250.7,1421.8 1256.6,1426.0 1262.6,1430.0 1268.6,1434.0 1274.6,1437.8 1280.6,1441.4 1286.6,1445.0 1292.6,1448.4 1298.6,1451.7 1304.5,1454.9 1310.5,1458.0 1316.5,1460.9 1322.5,1463.8 1324.8,1452.6 1328.1,1474.0 1331.8,1461.9 1334.6,1473.1 1338.4,1467.5 1342.1,1474.0 1345.8,1473.1 1348.8,1474.6 1351.8,1476.0 1354.7,1477.4 1357.7,1478.8 1360.7,1480.1 1363.7,1481.4 1366.6,1482.7 1369.6,1483.9 1372.6,1485.0 1375.6,1486.1 1378.5,1487.2 1381.5,1488.3 1384.5,1489.3 1387.5,1490.3 1390.4,1491.3 1393.4,1492.2 1396.4,1493.1 1399.4,1494.0 1402.3,1494.8 1405.3,1495.6 1408.3,1496.4 1413.9,1519.7 1418.9,1539.3 1423.6,1517.2 1426.6,1517.6 1429.5,1518.1 1432.5,1518.5 1435.4,1518.9 1438.4,1519.2 1441.4,1519.6 1444.3,1520.0 1447.3,1520.3 1450.3,1520.7 1453.2,1521.0 1456.2,1521.3 1459.1,1521.7 1462.1,1522.0 1465.1,1522.2 1468.0,1522.5 1471.0,1522.8 1473.9,1523.0 1476.9,1523.3 1479.9,1523.5 1482.8,1523.7 1485.8,1523.9 1488.8,1524.1 1491.7,1524.3 1494.7,1524.4 1497.6,1524.6 1500.6,1524.7 1503.6,1524.9 1506.5,1525.0 1509.5,1525.2 1512.4,1525.4 1515.4,1525.6 1518.4,1525.9 1521.3,1526.1 1524.3,1526.3 1527.3,1526.6 1530.2,1526.8 1533.2,1527.1 1536.1,1527.3 1539.1,1527.6 1542.1,1527.9 1545.0,1528.2 1548.0,1528.5 1550.9,1528.8 1553.9,1529.1 1556.9,1529.4 1559.8,1529.8 1562.8,1530.1 1565.8,1530.4 1568.7,1530.8 1571.7,1531.2 1574.6,1531.5 1577.6,1531.9 1580.0,1538.9 1593.0,1488.1 1596.0,1489.0 1598.9,1489.8 1601.9,1490.7 1604.8,1491.5 1607.8,1492.3 1610.7,1493.1 1613.7,1493.9 1616.6,1494.7 1619.6,1495.5 1622.5,1496.2 1625.5,1496.9 1628.4,1497.6 1631.4,1498.3 1634.4,1499.0 1637.3,1499.7 1640.3,1500.4 1643.2,1501.1 1646.2,1501.7 1649.1,1502.3 1652.1,1502.9 1655.0,1503.5 1658.0,1504.1 1660.9,1504.6 1663.9,1505.1 1666.8,1505.6 1669.8,1506.0 1672.8,1506.5 1675.7,1506.9 1678.7,1507.3 1681.6,1507.8 1684.6,1508.2 1687.5,1508.7 1690.5,1509.2 1693.4,1509.7 1696.4,1510.2 1699.3,1510.8 1702.3,1511.3 1705.2,1511.8 1708.2,1512.4 1711.2,1512.9 1714.1,1513.5 1717.1,1514.1 1720.0,1514.7 1723.0,1515.3 1725.9,1515.9 1728.9,1516.5 1731.8,1517.1 1734.8,1517.7 1737.7,1518.3 1740.7,1519.0 1743.6,1519.6 1746.6,1520.3 1752.9,1538.9 1762.7,1496.9 1765.7,1497.7 1768.6,1498.4 1771.6,1499.2 1774.5,1499.9 1777.5,1500.7 1780.5,1501.4 1783.4,1502.1 1786.4,1502.8 1789.3,1503.5 1792.3,1504.2 1795.3,1504.8 1798.2,1505.5 1801.2,1506.1 1804.1,1506.7 1807.1,1507.4 1810.1,1508.0 1813.0,1508.5 1816.0,1509.1 1818.9,1509.7 1821.9,1510.2 1824.9,1510.8 1827.8,1511.3 1830.8,1511.8 1833.7,1512.3 1836.7,1512.8 1839.7,1513.3 1842.6,1513.8 1845.6,1514.3 1848.5,1514.7 1851.5,1515.2 1854.4,1515.7 1857.4,1516.1 1860.4,1516.6 1863.3,1517.0 1866.3,1517.4 1869.2,1517.8 1872.2,1518.3 1875.2,1518.7 1878.1,1519.1 1881.1,1519.5 1884.0,1519.9 1887.0,1520.3 1890.0,1520.6 1892.9,1521.0 1895.9,1521.4 1898.8,1521.8 1901.8,1522.1 1904.8,1522.5 1907.7,1522.8 1910.7,1523.1 1913.6,1523.5 1916.6,1523.8 1921.5,1538.9 1932.7,1493.7 1935.7,1494.1 1938.6,1494.6 1941.6,1495.0 1944.6,1495.5 1947.5,1496.1 1950.5,1496.6 1953.5,1497.1 1956.4,1497.7 1959.4,1498.3 1962.4,1498.9 1965.3,1499.5 1968.3,1500.1 1971.2,1500.8 1974.2,1501.4 1977.2,1502.1 1980.1,1502.7 1983.1,1503.5 1986.1,1504.2 1989.0,1505.1 1992.0,1506.0 1995.0,1506.9 1997.9,1507.8 2000.9,1508.6 2003.9,1509.5 2006.8,1510.3 2009.8,1511.1 2012.8,1511.8 2015.7,1512.4 2018.7,1513.0 2021.7,1513.6 2024.6,1514.2 2027.6,1514.8 2030.6,1515.4 2033.5,1515.9 2036.5,1516.5 2039.5,1517.1 2042.4,1517.6 2045.4,1518.1 2048.3,1518.6 2051.3,1519.1 2054.3,1519.6 2057.2,1520.1 2060.2,1520.5 2063.2,1521.0 2066.1,1521.4 2069.1,1521.7 2072.1,1522.1 2075.0,1522.5 2078.0,1522.8 2081.0,1523.1 2083.9,1523.4 2086.9,1523.6 2091.9,1538.9 2103.2,1492.7 2106.2,1493.5 2109.1,1494.3 2112.1,1495.1 2115.0,1495.9 2118.0,1496.6 2121.0,1497.4 2123.9,1498.1 2126.9,1498.8 2129.9,1499.6 2132.8,1500.3 2135.8,1501.0 2138.7,1501.6 2141.7,1502.3 2144.7,1503.0 2147.6,1503.6 2150.6,1504.2 2153.5,1504.8 2156.5,1505.4 2159.5,1506.0 2162.4,1506.6 2165.4,1507.2 2168.4,1507.7 2171.3,1508.3 2174.3,1508.8 2177.2,1509.3 2180.2,1509.8 2183.2,1510.3 2186.1,1510.8 2189.1,1511.3 2192.0,1511.8 2195.0,1512.3 2198.0,1512.8 2200.9,1513.2 2203.9,1513.7 2206.9,1514.2 2209.8,1514.6 2212.8,1515.0 2215.7,1515.5 2218.7,1515.9 2221.7,1516.4 2224.6,1516.8 2227.6,1517.2 2230.5,1517.6 2233.5,1518.0 2236.5,1518.4 2239.4,1518.8 2242.4,1519.2 2245.4,1519.6 2248.3,1519.9 2251.3,1520.3 2254.2,1520.6 2257.2,1521.0 2262.7,1538.9 2273.0,1496.0 2318.0,1504.6"/>
</g>
<text class="tick" font-size="71.00" transform="translate(284.69,1628.95) scale(0.9580,1)">0</text>
<text class="tick" font-size="71.00" transform="translate(771.79,1628.95) scale(0.9580,1)">3</text>
<text class="tick" font-size="71.00" transform="translate(1258.15,1628.95) scale(0.9580,1)">6</text>
<text class="tick" font-size="71.00" transform="translate(1745.30,1628.95) scale(0.9580,1)">9</text>
<text class="tick" font-size="71.00" transform="translate(2213.49,1628.95) scale(0.9580,1)">12</text>
<text class="tick" font-size="71.00" transform="translate(246.03,1567.30) scale(0.9580,1)">0</text>
<text class="tick" font-size="71.00" transform="translate(151.67,1404.37) scale(0.9580,1)">0.15</text>
<text class="tick" font-size="71.00" transform="translate(189.63,1241.43) scale(0.9580,1)">0.3</text>
<text class="tick" font-size="71.00" transform="translate(151.67,1078.50) scale(0.9580,1)">0.45</text>
<text><tspan class="ser" font-size="71.50" x="1149.66" y="1703.25" textLength="156.92" lengthAdjust="spacingAndGlyphs">Time</tspan> <tspan class="ser" font-size="76.40" x="1332.41" y="1704.05" textLength="21.13" lengthAdjust="spacingAndGlyphs">(</tspan><tspan class="ser" font-size="71.50" x="1353.92" y="1703.25" textLength="89.74" lengthAdjust="spacingAndGlyphs">sec</tspan><tspan class="ser" font-size="76.40" x="1445.15" y="1704.05" textLength="21.13" lengthAdjust="spacingAndGlyphs">)</tspan></text>
<text transform="translate(120.1,1397.1) rotate(-90)"><tspan class="ser it" font-size="66.50" x="-2.00" y="0.00" textLength="28.86" lengthAdjust="spacingAndGlyphs">e</tspan><tspan class="ser" font-size="49.70" x="31.37" y="10.70" textLength="19.71" lengthAdjust="spacingAndGlyphs">2</tspan> <tspan class="ser" font-size="76.40" x="82.99" y="1.00" textLength="21.26" lengthAdjust="spacingAndGlyphs">(</tspan><tspan class="ser" font-size="71.50" x="105.77" y="0.00" textLength="117.47" lengthAdjust="spacingAndGlyphs">Deg</tspan><tspan class="ser" font-size="76.40" x="225.39" y="1.00" textLength="20.75" lengthAdjust="spacingAndGlyphs">)</tspan></text>
<rect x="2061.4" y="1030.0" width="232.2" height="84.5" fill="#fff" stroke="#262626" stroke-width="1.4"/>
<line x1="2068.1" y1="1052.7" x2="2137.1" y2="1052.7" stroke="#0000ff" stroke-width="4.6" stroke-dasharray="14 3.5 6.8 3.5"/>
<line x1="2068.1" y1="1091.7" x2="2137.1" y2="1091.7" stroke="#ff0000" stroke-width="4.6"/>
<text class="ser" font-size="33.00" transform="translate(2142.28,1064.60) scale(1.0000,1)" style="fill:#000">ATDC</text>
<text class="ser" font-size="33.00" transform="translate(2142.28,1103.50) scale(1.0000,1)" style="fill:#000">ATDC-SM</text>
<text><tspan class="ser" font-size="86.20" x="1212.66" y="1827.55" textLength="25.69" lengthAdjust="spacingAndGlyphs" style="fill:#000">(</tspan><tspan class="ser bd" font-size="87.50" x="1238.87" y="1828.30" textLength="49.64" lengthAdjust="spacingAndGlyphs" style="fill:#000">b</tspan><tspan class="ser" font-size="86.20" x="1290.40" y="1827.55" textLength="25.69" lengthAdjust="spacingAndGlyphs" style="fill:#000">)</tspan></text>
</g>
</svg></body></html>
